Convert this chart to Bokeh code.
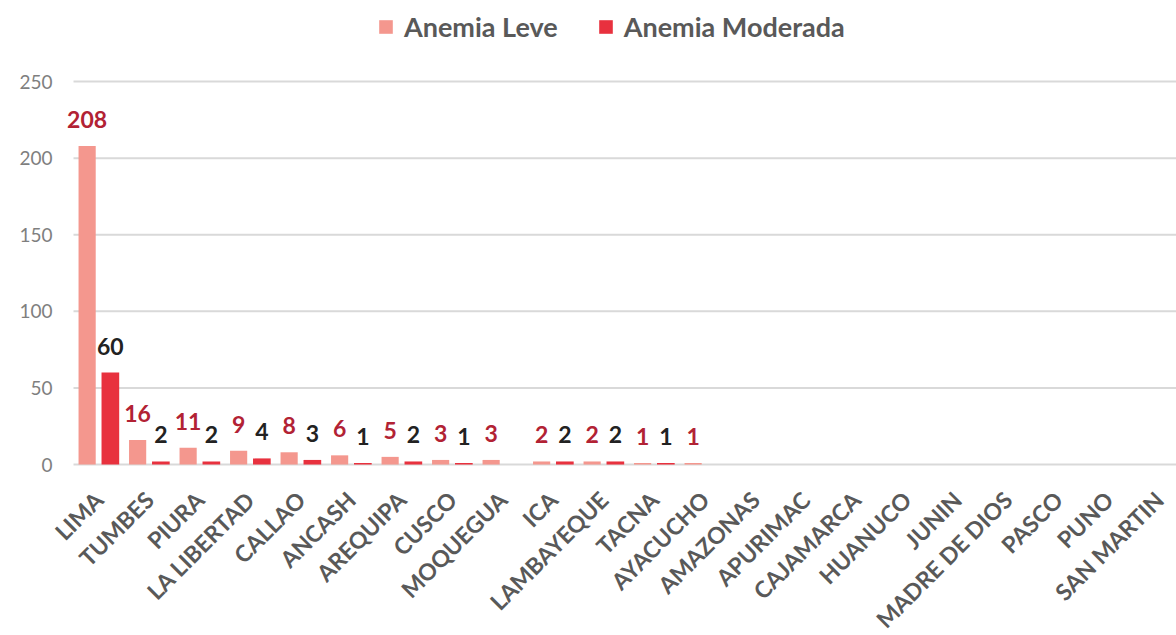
import math
from bokeh.plotting import figure
from bokeh.models import (ColumnDataSource, Range1d, FixedTicker, LabelSet,
                          Legend, LegendItem)
from bokeh.core.properties import value
from bokeh.transform import dodge
from bokeh.embed import file_html
from bokeh.resources import INLINE

regions = ["LIMA", "TUMBES", "PIURA", "LA LIBERTAD", "CALLAO", "ANCASH",
           "AREQUIPA", "CUSCO", "MOQUEGUA", "ICA", "LAMBAYEQUE", "TACNA",
           "AYACUCHO", "AMAZONAS", "APURIMAC", "CAJAMARCA", "HUANUCO", "JUNIN",
           "MADRE DE DIOS", "PASCO", "PUNO", "SAN MARTIN"]
leve = [208, 16, 11, 9, 8, 6, 5, 3, 3, 2, 2, 1, 1, 0, 0, 0, 0, 0, 0, 0, 0, 0]
moderada = [60, 2, 2, 4, 3, 1, 2, 1, 0, 2, 2, 1, 0, 0, 0, 0, 0, 0, 0, 0, 0, 0]
yticks = [0, 50, 100, 150, 200, 250]

FONT = "Lato"
C_LEVE = "#F4978E"
C_MOD = "#E8313E"

idx = list(range(len(regions)))
src = ColumnDataSource(dict(x=idx, leve=leve, moderada=moderada))

lev_lab = ColumnDataSource(dict(
    x=[i for i, v in zip(idx, leve) if v > 0],
    y=[v for v in leve if v > 0],
    t=[str(v) for v in leve if v > 0]))
mod_lab = ColumnDataSource(dict(
    x=[i for i, v in zip(idx, moderada) if v > 0],
    y=[v for v in moderada if v > 0],
    t=[str(v) for v in moderada if v > 0]))

# the frame fills the whole canvas; both axes are drawn at fixed locations
p = figure(width=1176, height=635, output_backend="svg", toolbar_location=None,
           x_range=Range1d(-1.9455, 21.342), y_range=Range1d(-111.6, 302.9),
           min_border_left=0, min_border_right=0, min_border_top=0,
           min_border_bottom=0)
p.outline_line_color = None
p.background_fill_color = "white"
p.border_fill_color = "white"

# horizontal gridlines, spanning the category area only
grid_src = ColumnDataSource(dict(y=yticks))
p.segment(x0=-0.5, x1=len(regions) - 0.5, y0="y", y1="y", source=grid_src,
          line_color="#d9d9d9", line_width=2)

r1 = p.vbar(x=dodge("x", -0.23, range=p.x_range), top="leve", width=0.34,
            source=src, color=C_LEVE, line_color=None)
r2 = p.vbar(x=dodge("x", 0.23, range=p.x_range), top="moderada", width=0.35,
            source=src, color=C_MOD, line_color=None)

p.add_layout(LabelSet(x=dodge("x", -0.23, range=p.x_range), y="y", text="t",
                      source=lev_lab, y_offset=18, text_align="center",
                      text_baseline="alphabetic", text_font_size="23px",
                      text_font_style="bold", text_color="#B22234",
                      text_font=value(FONT)))
p.add_layout(LabelSet(x=dodge("x", 0.23, range=p.x_range), y="y", text="t",
                      source=mod_lab, y_offset=18, text_align="center",
                      text_baseline="alphabetic", text_font_size="23px",
                      text_font_style="bold", text_color="#222222",
                      text_font=value(FONT)))

# axes
p.xaxis.fixed_location = 0
p.xaxis.ticker = FixedTicker(ticks=idx)
p.xaxis.major_label_overrides = {i: n for i, n in zip(idx, regions)}
p.xaxis.major_label_orientation = math.pi / 4
p.xaxis.major_label_text_font = FONT
p.xaxis.major_label_text_font_size = "23px"
p.xaxis.major_label_text_font_style = "bold"
p.xaxis.major_label_text_color = "#595959"
p.xaxis.major_tick_line_color = None
p.xaxis.major_tick_out = 0
p.xaxis.major_tick_in = 0
p.xaxis.minor_tick_line_color = None
p.xaxis.axis_line_color = None
p.xaxis.major_label_standoff = 31

p.yaxis.fixed_location = -0.678
p.yaxis.ticker = FixedTicker(ticks=yticks)
p.yaxis.major_label_text_font = FONT
p.yaxis.major_label_text_font_size = "19px"
p.yaxis.major_label_text_color = "#7f7f7f"
p.yaxis.major_tick_line_color = None
p.yaxis.major_tick_out = 0
p.yaxis.major_tick_in = 0
p.yaxis.minor_tick_line_color = None
p.yaxis.axis_line_color = None
p.yaxis.major_label_standoff = 12

p.xgrid.grid_line_color = None
p.ygrid.grid_line_color = None

legend = Legend(items=[LegendItem(label="Anemia Leve", renderers=[r1]),
                       LegendItem(label="Anemia Moderada", renderers=[r2])],
                orientation="horizontal", location=(377, 592),
                label_text_font=FONT, label_text_font_size="27px",
                label_text_font_style="bold", label_text_color="#595959",
                glyph_width=17, glyph_height=17, spacing=39,
                label_standoff=10, padding=0, margin=0,
                border_line_color=None, background_fill_alpha=0)
p.add_layout(legend, "center")

open("out.html", "w").write(file_html(p, INLINE))
